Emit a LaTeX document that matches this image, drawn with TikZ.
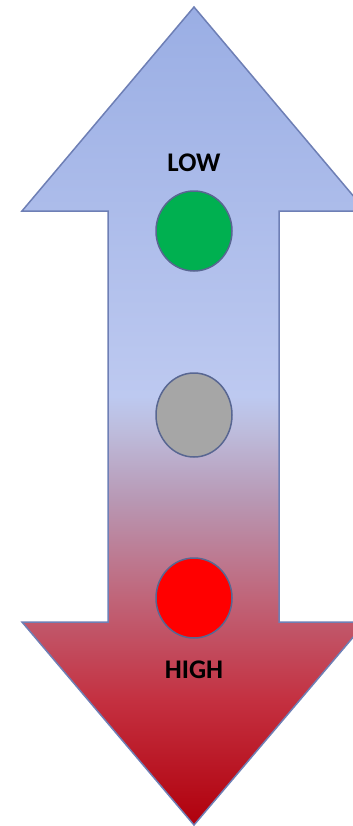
\documentclass[tikz,border=0pt]{standalone}
\usepackage{fontspec}
\setmainfont{Carlito}
\usetikzlibrary{shapes.geometric}

\definecolor{hotred}{HTML}{B0000C}
\definecolor{warmred}{HTML}{C43040}
\definecolor{rosered}{HTML}{C06478}
\definecolor{pinkish}{HTML}{B898B4}
\definecolor{mauve}{HTML}{BDBCDC}
\definecolor{lightblue}{HTML}{BDC9F0}
\definecolor{topblue}{HTML}{9AAEE4}
\definecolor{rim}{HTML}{6E7FB5}
\definecolor{lampgreen}{HTML}{00B050}
\definecolor{lampgray}{HTML}{A6A6A6}
\definecolor{lampred}{HTML}{FF0000}

\pgfdeclareverticalshading{scale}{100bp}{%
  color(0bp)=(hotred); color(25bp)=(hotred);
  color(32.6bp)=(warmred); color(38.8bp)=(rosered);
  color(44.9bp)=(pinkish); color(49.1bp)=(mauve);
  color(51.2bp)=(lightblue);
  color(75bp)=(topblue); color(100bp)=(topblue)}

\begin{document}
\begin{tikzpicture}[
  x=1bp, y=-1bp,
  arrowbody/.style={draw=rim, line width=1.5bp, shading=scale},
  lamp/.style={ellipse, draw=rim!80!black, line width=1.5bp,
               minimum width=76bp, minimum height=80bp, inner sep=0pt},
  tag/.style={font=\bfseries\fontsize{27}{30}\selectfont, inner sep=0pt}
]
  \useasboundingbox (0,0) rectangle (352,826);
  \path[arrowbody] (194,7) -- (366,211) -- (279,211) -- (279,622)
    -- (366,622) -- (194,825) -- (22,622) -- (108,622) -- (108,211)
    -- (22,211) -- cycle;
  \node[tag] (low) at (194,163) {LOW};
  \node[lamp, fill=lampgreen] (green) at (194,231) {};
  \node[lamp, fill=lampgray, minimum height=84bp] (gray) at (194,415) {};
  \node[lamp, fill=lampred] (red) at (194,598) {};
  \node[tag] (high) at (194,670) {HIGH};
\end{tikzpicture}
\end{document}
